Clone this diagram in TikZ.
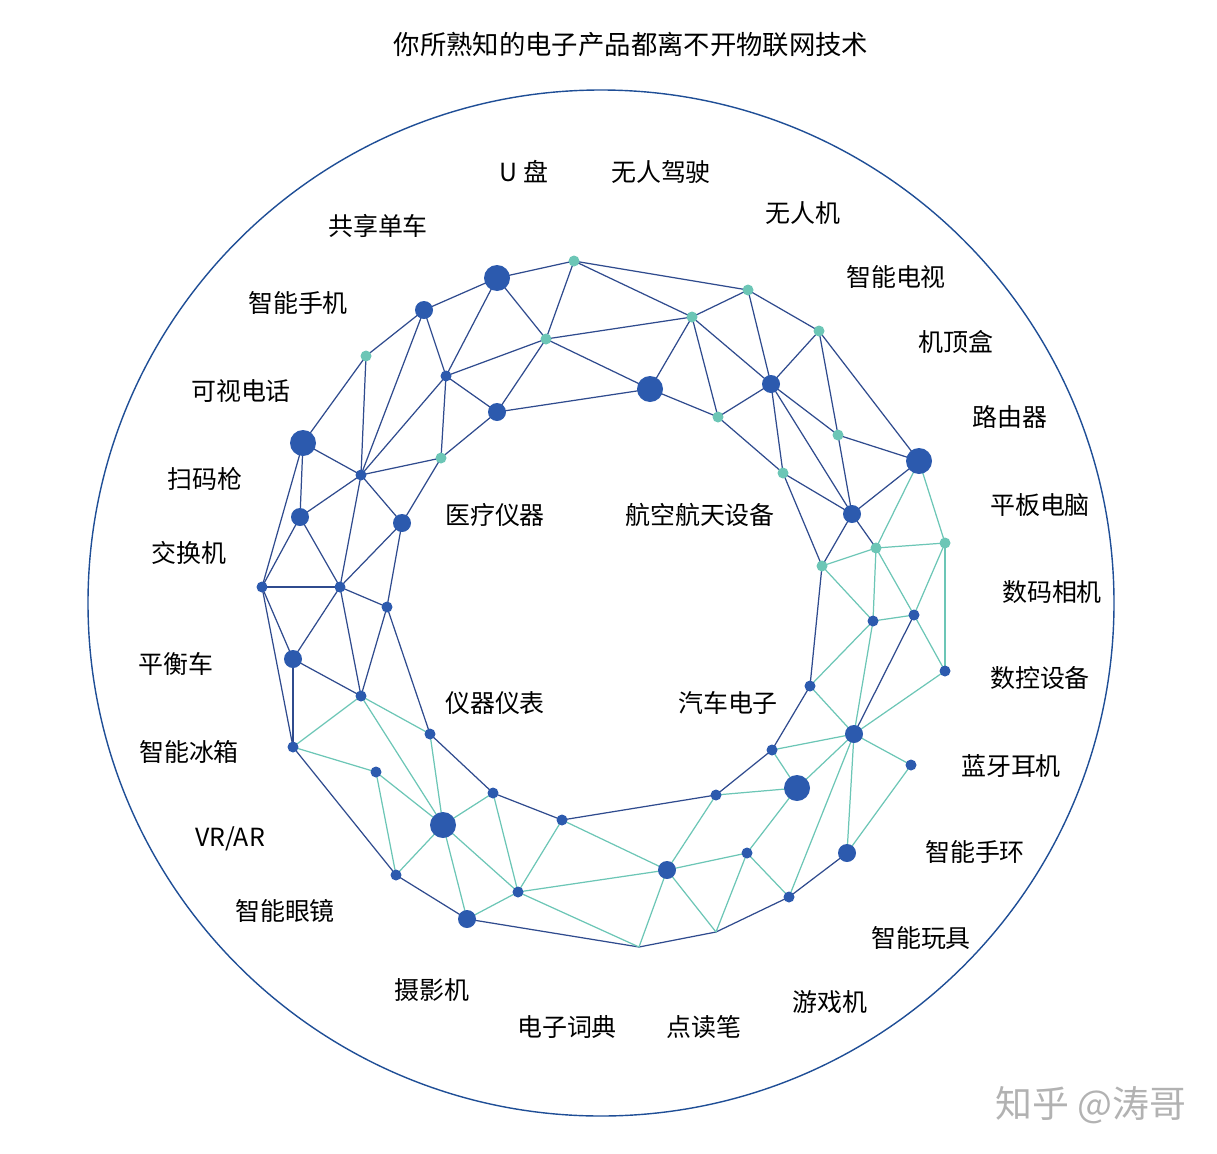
\documentclass[tikz,border=0pt]{standalone}
\usepackage{fontspec}
\setmainfont{Noto Sans CJK SC}
\definecolor{dotblue}{HTML}{2C5AAE}
\definecolor{edgeblue}{HTML}{2F4B8E}
\definecolor{dotteal}{HTML}{6CC6B6}
\definecolor{ringblue}{HTML}{1F4E96}
\begin{document}
\begin{tikzpicture}[x=0.02cm,y=-0.02cm,
    big node/.style={circle,fill=dotblue,inner sep=0pt,minimum size=0.52cm},
    mid node/.style={circle,fill=dotblue,inner sep=0pt,minimum size=0.36cm},
    small node/.style={circle,fill=dotblue,inner sep=0pt,minimum size=0.22cm},
    teal node/.style={circle,fill=dotteal,inner sep=0pt,minimum size=0.22cm},
    label text/.style={font=\fontsize{14.2}{17}\selectfont},
    blue edge/.style={edgeblue,line width=0.7pt},
    teal edge/.style={dotteal,line width=0.7pt}]
    \useasboundingbox (0,0) rectangle (1217,1153);

    \draw[ringblue,line width=0.8pt] (601,603) circle[radius=513];

    % connector end points first, dots drawn on top later
    \foreach \n/\x/\y in {n1/574/261,n2/497/278,n3/424/310,n4/366/356,n5/446/376,n6/546/339,
        n7/497/412,n8/650/389,n9/692/317,n10/748/290,n11/819/331,n12/771/384,n13/718/417,
        n14/838/435,n15/919/461,n16/783/473,n17/852/514,n18/303/443,n19/361/475,n20/441/458,
        n21/402/523,n22/300/517,n23/262/587,n24/340/587,n25/387/607,n26/293/659,n27/361/696,
        n28/293/747,n29/376/772,n30/430/734,n31/443/825,n32/396/875,n33/467/919,n34/518/892,
        n35/493/793,n36/562/820,n37/639/947,n38/716/932,n39/667/870,n40/747/853,n41/789/897,
        n42/847/853,n43/716/795,n44/797/788,n45/772/750,n46/854/734,n47/911/765,n48/810/686,
        n49/873/621,n50/914/615,n51/945/671,n52/876/548,n53/945/543,n54/822/566}
        \coordinate (\n) at (\x,\y);

    % connectors
    \foreach \a/\b in {n1/n2,n1/n6,n2/n3,n2/n5,n2/n6,n3/n4,n3/n5,n3/n19,n4/n18,n4/n19,
        n5/n6,n5/n7,n5/n19,n5/n20,n6/n7,n20/n7,n18/n19,n18/n22,n18/n23,n19/n20,n19/n22,
        n19/n24,n19/n21,n20/n21,n21/n24,n21/n25,n22/n23,n22/n24,n23/n24,n24/n25,
        n1/n10,n1/n9,n6/n9,n6/n8,n7/n8,n8/n9,n8/n13,n9/n10,n9/n12,n9/n13,n10/n11,n10/n12,
        n11/n12,n11/n14,n11/n15,n12/n13,n12/n14,n12/n17,n12/n16,n13/n16,n14/n15,n14/n17,
        n16/n17,n16/n54,n15/n17,n17/n54,n17/n52,n54/n48,n50/n46,n48/n45,n45/n43,n43/n36,
        n41/n42,n41/n38,n38/n37,n23/n26,n23/n28,n24/n26,n24/n27,n25/n27,n25/n30,n26/n28,
        n26/n27,n28/n32,n30/n35,n35/n36,n32/n33,n33/n37}
        \draw[blue edge] (\a) -- (\b);
    \foreach \a/\b in {n15/n52,n15/n53,n54/n52,n52/n53,n54/n49,n52/n49,n52/n50,n53/n50,
        n53/n51,n49/n50,n49/n48,n49/n46,n50/n51,n48/n46,n51/n46,n46/n45,n46/n44,n46/n47,
        n46/n42,n46/n41,n47/n42,n45/n44,n43/n44,n43/n39,n44/n40,n40/n39,n40/n41,n40/n38,
        n39/n38,n39/n37,n27/n28,n27/n30,n27/n31,n28/n29,n29/n31,n29/n32,n30/n31,n31/n35,
        n31/n34,n31/n33,n31/n32,n35/n34,n36/n34,n36/n39,n34/n33,n34/n39,n34/n37}
        \draw[teal edge] (\a) -- (\b);

    % dots
    \foreach \n in {n2,n8,n15,n18,n31,n44}
        \node[big node] (d\n) at (\n) {};
    \foreach \n in {n3,n7,n12,n17,n21,n22,n26,n33,n39,n42,n46}
        \node[mid node] (d\n) at (\n) {};
    \foreach \n in {n5,n19,n23,n24,n25,n27,n28,n29,n30,n32,n34,n35,n36,n40,n41,n43,n45,n47,n48,n49,n50,n51}
        \node[small node] (d\n) at (\n) {};
    \foreach \n in {n1,n4,n6,n9,n10,n11,n13,n14,n16,n20,n52,n53,n54}
        \node[teal node] (d\n) at (\n) {};

    % texts
    \node[font=\fontsize{15}{18}\selectfont] (title) at (631,44) {你所熟知的电子产品都离不开物联网技术};
    \foreach \t/\x/\y in {U 盘/524/172,无人驾驶/661/172,无人机/803/213,智能电视/896/277,
        机顶盒/956/342,路由器/1010/417,平板电脑/1040/505,数码相机/1052/592,数控设备/1040/678,
        蓝牙耳机/1011/766,智能手环/975/852,智能玩具/921/938,游戏机/830/1002,点读笔/704/1027,
        电子词典/567/1027,摄影机/432/990,智能眼镜/285/911,{VR/AR}/230/839,智能冰箱/189/752,
        平衡车/176/664,交换机/189/553,扫码枪/205/479,可视电话/241/391,智能手机/298/303,
        共享单车/378/226,医疗仪器/495/515,航空航天设备/700/515,仪器仪表/495/703,汽车电子/728/703}
        \node[label text] at (\x,\y) {\t};
    \node[font=\fontsize{21}{24}\selectfont,text=black!30] (mark) at (1091,1105) {知乎 @涛哥};
\end{tikzpicture}
\end{document}
